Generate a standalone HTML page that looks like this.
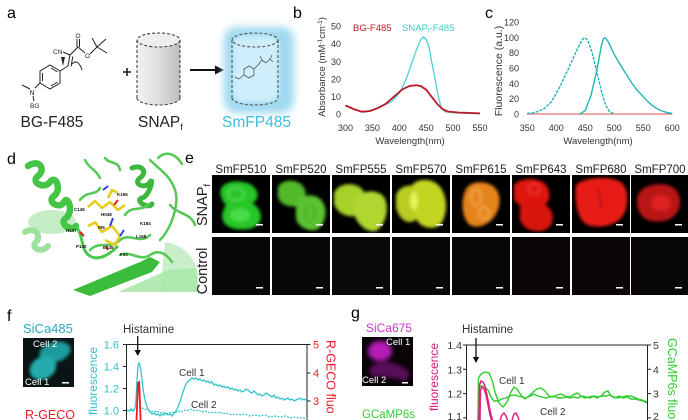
<!DOCTYPE html>
<html><head><meta charset="utf-8"><style>
html,body{margin:0;padding:0;background:#fff;width:688px;height:420px;overflow:hidden;}
svg{display:block;}
text{font-family:"Liberation Sans",Arial,sans-serif;}
</style></head><body>
<svg width="688" height="420" viewBox="0 0 688 420" xmlns="http://www.w3.org/2000/svg" overflow="hidden">
<defs>
<filter id="bl" x="-20%" y="-20%" width="140%" height="140%"><feGaussianBlur stdDeviation="1.5"/></filter>
<filter id="bl2" x="-30%" y="-30%" width="160%" height="160%"><feGaussianBlur stdDeviation="4"/></filter>
<filter id="bl3" x="-30%" y="-30%" width="160%" height="160%"><feGaussianBlur stdDeviation="2.5"/></filter>
<linearGradient id="cyl" x1="0" x2="1" y1="0" y2="0"><stop offset="0" stop-color="#f4f4f4"/><stop offset="0.6" stop-color="#d8d8d8"/><stop offset="1" stop-color="#bdbdbd"/></linearGradient>
<clipPath id="frame"><rect width="688" height="420"/></clipPath>
</defs>
<g clip-path="url(#frame)">
<rect width="688" height="420" fill="#fff"/>

<!-- ===== Panel a ===== -->
<text x="7" y="18" font-size="16">a</text>
<g stroke="#222" stroke-width="1" fill="none">
  <polygon points="50,65 60,71 60,83 50,89 40,83 40,71"/>
  <line x1="42.5" y1="73" x2="42.5" y2="81"/>
  <line x1="51" y1="68" x2="57.5" y2="72"/>
  <line x1="51" y1="86" x2="57.5" y2="82"/>
  <line x1="60" y1="71" x2="68" y2="66"/>
  <line x1="68" y1="66" x2="70" y2="55"/>
  <line x1="71" y1="66.5" x2="72.8" y2="56.5"/>
  <line x1="70" y1="55" x2="63" y2="52"/>
  <line x1="70" y1="55" x2="78" y2="47"/>
  <line x1="77" y1="47" x2="77" y2="39"/>
  <line x1="79.5" y1="47" x2="79.5" y2="39"/>
  <line x1="78" y1="47" x2="85" y2="53"/>
  <line x1="90" y1="54" x2="97" y2="47"/>
  <line x1="97" y1="47" x2="92" y2="38"/>
  <line x1="97" y1="47" x2="106" y2="39"/>
  <line x1="97" y1="47" x2="107" y2="53"/>
  <path d="M72,64 Q78,58 82,70"/>
  <line x1="40" y1="83" x2="35" y2="88"/>
  <line x1="30" y1="89" x2="22" y2="85"/>
  <line x1="33" y1="96" x2="34" y2="101"/>
</g>
<polygon points="61,57 65,57 63,66" fill="#222"/>
<text x="53" y="54" font-size="6.5" fill="#222">CN</text>
<text x="75.5" y="38" font-size="6.5" fill="#222">O</text>
<text x="85" y="58" font-size="6.5" fill="#222">O</text>
<text x="29.5" y="95" font-size="7" fill="#222">N</text>
<text x="30" y="108" font-size="6.5" fill="#222">BG</text>
<text x="52" y="127" font-size="15.5" text-anchor="middle" fill="#222">BG-F485</text>

<g stroke="#222" stroke-width="1.6"><line x1="123" y1="72" x2="131" y2="72"/><line x1="127" y1="68" x2="127" y2="76"/></g>

<path d="M137,40 L137,98 A21.5,7 0 0 0 180,98 L180,40 Z" fill="url(#cyl)"/>
<ellipse cx="158.5" cy="40" rx="21.5" ry="7" fill="#efefef"/>
<g stroke="#444" stroke-width="1.1" stroke-dasharray="3,2" fill="none">
  <ellipse cx="158.5" cy="40" rx="21.5" ry="7"/>
  <line x1="137" y1="40" x2="137" y2="98"/>
  <line x1="180" y1="40" x2="180" y2="98"/>
  <path d="M137,98 A21.5,7 0 0 0 180,98"/>
</g>
<text x="138" y="127" font-size="15.5" fill="#222">SNAP<tspan font-size="9" dy="3">f</tspan></text>

<line x1="190" y1="70" x2="216" y2="70" stroke="#111" stroke-width="2"/>
<polygon points="215,65.5 224,70 215,74.5" fill="#111"/>

<rect x="224" y="27" width="70" height="86" rx="12" fill="#9fd9f0" filter="url(#bl2)"/>
<rect x="233" y="36" width="46" height="66" rx="10" fill="#cdeefa" filter="url(#bl3)"/>
<g stroke="#555" stroke-width="1.1" stroke-dasharray="3,2" fill="none">
  <ellipse cx="255" cy="40" rx="23" ry="7"/>
  <line x1="232" y1="40" x2="232" y2="98"/>
  <line x1="278" y1="40" x2="278" y2="98"/>
  <path d="M232,98 A23,7 0 0 0 278,98"/>
</g>
<g stroke="#555" stroke-width="0.8" fill="none">
  <polygon points="249,66 254,69 254,75 249,78 244,75 244,69"/>
  <line x1="254" y1="69" x2="258" y2="65"/><line x1="258" y1="65" x2="262" y2="60"/>
  <line x1="262" y1="60" x2="266" y2="63"/><line x1="266" y1="63" x2="270" y2="59"/>
  <line x1="270" y1="59" x2="273" y2="62"/><line x1="270" y1="59" x2="272" y2="55"/>
  <line x1="244" y1="75" x2="239" y2="79"/><line x1="239" y1="79" x2="235" y2="77"/>
  <line x1="262" y1="60" x2="260" y2="56"/>
</g>
<text x="256.5" y="127" font-size="15.5" text-anchor="middle" fill="#3cc0e0">SmFP485</text>

<!-- ===== Panel b ===== -->
<text x="293" y="18" font-size="16">b</text>
<text x="353" y="31" font-size="9.5" fill="#c0182a">BG-F485</text>
<text x="402" y="31" font-size="9.5" fill="#3ccccc">SNAP<tspan font-size="6" dy="1.5">f</tspan><tspan dy="-1.5">-F485</tspan></text>
<g font-size="9" fill="#333" text-anchor="end">
  <text x="341" y="117.5">0</text><text x="341" y="100">10</text><text x="341" y="82.4">20</text>
  <text x="341" y="64.8">30</text><text x="341" y="47.2">40</text><text x="341" y="29.6">50</text>
</g>
<g font-size="9" fill="#333" text-anchor="middle">
  <text x="345.5" y="131">300</text><text x="372.4" y="131">350</text><text x="399.3" y="131">400</text>
  <text x="426.2" y="131">450</text><text x="453" y="131">500</text><text x="480" y="131">550</text>
</g>
<text transform="translate(325,67) rotate(-90)" font-size="9.5" text-anchor="middle" fill="#333">Absorbance (mM<tspan font-size="6.5" dy="-3">-1</tspan><tspan dy="3">cm</tspan><tspan font-size="6.5" dy="-3">-1</tspan><tspan dy="3">)</tspan></text>
<text x="410" y="144" font-size="9.5" text-anchor="middle" fill="#333">Wavelength(nm)</text>
<polyline fill="none" stroke="#4dd2d2" stroke-width="1.3" points="345.5,105.5 350.9,108.1 356.3,110.3 364.3,112.2 372.4,109.9 383.2,105.5 391.2,102 399.3,93.2 403.5,85 407.4,75.6 411.5,64 415.4,52.7 418.3,45 420.8,39.5 423.5,36.9 426.2,39.5 429,47 431.6,61.5 434.5,76 437,89.7 439.2,100 441.3,107.3 445,111.7 453.1,112.9 480,113.8"/>
<polyline fill="none" stroke="#c0182a" stroke-width="1.8" points="345.5,105.5 353.6,109 361.6,111.7 369.7,111.1 377.8,108.1 385.9,103.7 393.9,96.7 402,89.7 406,87.5 410.1,85.8 416.5,85.3 420.8,86.1 426.2,89.7 431.6,96.7 437,103.7 442.3,109 447.7,111.5 458.5,112.5 469.2,112.9 480,113.4"/>

<!-- ===== Panel c ===== -->
<text x="485" y="18" font-size="16">c</text>
<g font-size="9" fill="#333" text-anchor="end">
  <text x="519" y="117.5">0</text><text x="519" y="102.2">20</text><text x="519" y="86.9">40</text>
  <text x="519" y="71.5">60</text><text x="519" y="56.2">80</text><text x="519" y="40.9">100</text><text x="519" y="25.6">120</text>
</g>
<g font-size="9" fill="#333" text-anchor="middle">
  <text x="527.3" y="131">350</text><text x="556.3" y="131">400</text><text x="585.3" y="131">450</text>
  <text x="614.3" y="131">500</text><text x="643.3" y="131">550</text><text x="672.3" y="131">600</text>
</g>
<text transform="translate(502,71) rotate(-90)" font-size="10.5" text-anchor="middle" fill="#333">Fluorescence (a.u.)</text>
<text x="598" y="144" font-size="9.5" text-anchor="middle" fill="#333">Wavelength(nm)</text>
<line x1="527" y1="114" x2="672" y2="114" stroke="#e07070" stroke-width="1.2"/>
<polyline fill="none" stroke="#1fb5b5" stroke-width="1.4" stroke-dasharray="3,1.2" points="527.3,113.5 533.1,112.8 538.9,111.2 544.7,108.2 550.5,102.8 556.3,93.6 562.1,82.1 567.9,69.9 573.7,56.9 579.5,44.6 582,40 584.1,37.7 586.3,38.8 588.2,41.5 592.3,53 596.9,72.2 601.5,91.3 605.6,105.1 609.7,112 614.3,113.9"/>
<polyline fill="none" stroke="#1fb5b5" stroke-width="1.4" points="579.5,114.3 585.3,110.5 591.1,95.2 596.9,69.9 601.5,45.4 603,40 604.4,37.7 606.3,38.8 608.5,42.3 614.3,54.6 620.1,64.5 625.9,73.7 631.7,82.9 637.5,90.6 643.3,96.7 649.1,102.8 654.9,107.4 660.7,110.5 666.5,112.4 672.3,113.5"/>

<!-- ===== Panel d ===== -->
<text x="7" y="164" font-size="16">d</text>
<ellipse cx="52" cy="222" rx="24" ry="12" fill="#c6eec6"/>
<path d="M165,242 C182,244 198,258 198,278 L198,292 L160,292 Z" fill="#bdeabd" opacity="0.8"/>
<path d="M25,232 C35,226 42,236 36,242 C30,248 42,254 48,246" stroke="#9ee09e" stroke-width="6" fill="none" stroke-linecap="round"/>
<path d="M28,166 C40,158 46,170 38,176 C30,182 44,190 50,182 C56,174 62,190 54,196 C46,202 60,210 64,202 C68,194 74,212 66,218 C58,224 72,232 76,226" stroke="#45c445" stroke-width="6.5" fill="none" stroke-linecap="round"/>
<path d="M76,226 C84,236 80,250 90,256 C100,262 112,252 118,246" stroke="#4cc84c" stroke-width="3" fill="none"/>
<polygon points="73,290 140,262 150,257 160,262 152,272 90,296" fill="#3cbc3c"/>
<polygon points="118,292 168,270 196,268 198,292" fill="#a8e6a8" opacity="0.85"/>
<path d="M132,168 C142,164 148,172 140,178 C132,184 146,190 150,182 C154,176 150,196 142,198 C134,200 148,210 152,204" stroke="#3cb83c" stroke-width="5" fill="none" stroke-linecap="round"/>
<g stroke="#55c855" stroke-width="2.5" fill="none" stroke-linecap="round">
  <path d="M150,160 C160,170 170,175 175,190 C180,205 170,230 160,240"/>
  <path d="M158,158 C166,150 176,154 182,164"/>
  <path d="M85,160 C90,170 95,168 100,178"/>
  <path d="M105,158 C110,165 118,160 120,170"/>
  <path d="M170,205 C178,215 190,212 195,225"/>
  <path d="M90,250 C100,240 110,250 120,240 C130,232 140,245 150,235"/>
  <path d="M120,255 C130,250 140,262 150,255 C160,248 168,256 172,262"/>
  <path d="M80,200 C88,190 96,196 100,188"/>
  <path d="M125,215 C132,205 140,212 148,205"/>
</g>
<g stroke="#e6cc1a" stroke-width="2.6" fill="none" stroke-linejoin="round">
  <path d="M88,207 L95,201 L102,208 L110,202 L118,210 L125,205"/>
  <path d="M95,222 L102,232 L112,226 L120,236 L115,245 L105,240"/>
  <path d="M108,198 L112,190 L118,193"/>
  <path d="M88,226 L96,222"/>
</g>
<g stroke="#3040e0" stroke-width="2" fill="none"><path d="M110,226 L113,218"/><path d="M120,236 L124,230"/><path d="M103,190 L108,186"/></g>
<g stroke="#e02020" stroke-width="2" fill="none"><path d="M80,232 L84,236"/><path d="M106,246 L108,250"/><path d="M114,205 L118,200"/></g>
<g font-size="4.5" font-weight="bold" fill="#111">
  <text x="117" y="196">K165</text><text x="74" y="211">C145</text><text x="101" y="216">H048</text>
  <text x="140" y="225">K184</text><text x="66" y="232">N137</text><text x="98" y="229">W5</text>
  <text x="136" y="238">L168</text><text x="76" y="248">P140</text><text x="103" y="249">E145</text><text x="120" y="256">F33</text>
</g>

<!-- ===== Panel e ===== -->
<text x="185" y="163" font-size="16">e</text>
<g font-size="11.5" fill="#222" text-anchor="middle">
  <text x="241" y="173">SmFP510</text><text x="301" y="173">SmFP520</text><text x="361" y="173">SmFP555</text>
  <text x="421" y="173">SmFP570</text><text x="481" y="173">SmFP615</text><text x="541" y="173">SmFP643</text>
  <text x="601" y="173">SmFP680</text><text x="660" y="173">SmFP700</text>
</g>
<text transform="translate(207,205) rotate(-90)" font-size="14.5" text-anchor="middle" fill="#222">SNAP<tspan font-size="9" dy="3">f</tspan></text>
<text transform="translate(207,271) rotate(-90)" font-size="14.5" text-anchor="middle" fill="#222">Control</text>

<svg x="212" y="175" width="58" height="58" viewBox="0 0 58 58"><rect width="58" height="58" fill="#000"/>
 <g filter="url(#bl)"><path d="M12,10 C20,4 36,6 42,12 C48,18 46,26 40,28 C48,32 52,42 46,50 C38,56 22,56 14,50 C8,44 10,36 14,30 C8,24 6,14 12,10 Z" fill="#25c625"/>
 <ellipse cx="24" cy="19" rx="8" ry="6" fill="none" stroke="#60e060" stroke-width="1.5"/><ellipse cx="28" cy="40" rx="10" ry="7" fill="#48dc48"/></g>
 <rect x="44" y="49" width="7" height="1.5" fill="#fff"/></svg>
<svg x="272" y="175" width="58" height="58" viewBox="0 0 58 58"><rect width="58" height="58" fill="#000"/>
 <g filter="url(#bl)"><path d="M6,12 C10,4 24,4 30,10 C36,16 34,26 28,30 C20,34 8,30 6,22 Z" fill="#52b82c"/>
 <path d="M24,28 C30,18 44,18 50,26 C56,34 54,48 46,54 C38,58 26,52 24,44 Z" fill="#5cc232"/>
 <ellipse cx="38" cy="38" rx="5" ry="8" fill="none" stroke="#3f9a22" stroke-width="1"/></g>
 <rect x="44" y="49" width="7" height="1.5" fill="#fff"/></svg>
<svg x="332" y="175" width="58" height="58" viewBox="0 0 58 58"><rect width="58" height="58" fill="#000"/>
 <g filter="url(#bl)"><path d="M2,18 C6,8 22,6 30,14 C36,22 34,36 26,40 C16,44 4,38 2,28 Z" fill="#a6d02c"/>
 <path d="M22,26 C28,14 46,14 52,22 C58,32 54,50 44,56 C34,58 24,48 22,38 Z" fill="#b0d630"/></g>
 <rect x="44" y="49" width="7" height="1.5" fill="#fff"/></svg>
<svg x="392" y="175" width="58" height="58" viewBox="0 0 58 58"><rect width="58" height="58" fill="#000"/>
 <g filter="url(#bl)"><path d="M4,20 C8,10 20,8 26,14 C32,22 30,40 22,46 C14,50 6,42 4,32 Z" fill="#b8cc22"/>
 <path d="M20,10 C28,2 42,4 48,12 C56,22 56,40 48,50 C40,56 28,52 24,44 C18,34 16,20 20,10 Z" fill="#c4d424"/>
 <ellipse cx="22" cy="26" rx="4" ry="9" fill="#e8f25a"/></g>
 <rect x="44" y="49" width="7" height="1.5" fill="#fff"/></svg>
<svg x="452" y="175" width="58" height="58" viewBox="0 0 58 58"><rect width="58" height="58" fill="#000"/>
 <g filter="url(#bl)"><path d="M14,14 C20,4 38,6 44,14 C50,22 48,34 42,42 C36,50 26,54 18,50 C10,44 8,26 14,14 Z" fill="#e6841c"/>
 <ellipse cx="24" cy="22" rx="5" ry="8" fill="none" stroke="#f6b050" stroke-width="1.5"/><ellipse cx="32" cy="38" rx="5" ry="6" fill="none" stroke="#f6b050" stroke-width="1.5"/></g>
 <rect x="44" y="49" width="7" height="1.5" fill="#fff"/></svg>
<svg x="512" y="175" width="58" height="58" viewBox="0 0 58 58"><rect width="58" height="58" fill="#000"/>
 <g filter="url(#bl)"><path d="M2,10 C8,2 28,2 34,10 C40,18 38,28 30,32 C20,36 6,32 2,24 Z" fill="#de140e"/>
 <path d="M8,30 C14,26 32,26 38,34 C44,42 40,54 30,56 C18,58 6,50 8,40 Z" fill="#d81410"/>
 <ellipse cx="22" cy="14" rx="6" ry="5" fill="none" stroke="#f04040" stroke-width="1.2"/></g>
 <rect x="44" y="49" width="7" height="1.5" fill="#fff"/></svg>
<svg x="572" y="175" width="58" height="58" viewBox="0 0 58 58"><rect width="58" height="58" fill="#000"/>
 <g filter="url(#bl)"><path d="M4,10 C12,2 40,0 50,8 C58,16 56,34 50,42 C44,50 28,54 16,50 C6,46 2,28 4,10 Z" fill="#e81a18"/>
 <path d="M26,14 L30,34" stroke="#600" stroke-width="1"/></g>
 <rect x="44" y="49" width="7" height="1.5" fill="#fff"/></svg>
<svg x="631" y="175" width="57" height="58" viewBox="0 0 57 58"><rect width="58" height="58" fill="#000"/>
 <g filter="url(#bl)"><path d="M8,18 C14,8 36,6 44,14 C52,22 50,36 42,42 C34,48 18,48 12,42 C6,36 4,26 8,18 Z" fill="#b81418"/>
 <ellipse cx="30" cy="28" rx="10" ry="8" fill="#de2024"/></g>
 <rect x="44" y="49" width="7" height="1.5" fill="#fff"/></svg>

<g>
 <rect x="212" y="237" width="58" height="58" fill="#070907"/>
 <rect x="272" y="237" width="58" height="58" fill="#070807"/>
 <rect x="332" y="237" width="58" height="58" fill="#090907"/>
 <rect x="392" y="237" width="58" height="58" fill="#080807"/>
 <rect x="452" y="237" width="58" height="58" fill="#080706"/>
 <rect x="512" y="237" width="58" height="58" fill="#0b0606"/>
 <rect x="572" y="237" width="58" height="58" fill="#0c0606"/>
 <rect x="631" y="237" width="57" height="58" fill="#090606"/>
 <g fill="#fff">
  <rect x="256" y="287" width="7" height="1.5"/><rect x="316" y="287" width="7" height="1.5"/>
  <rect x="376" y="287" width="7" height="1.5"/><rect x="436" y="287" width="7" height="1.5"/>
  <rect x="496" y="287" width="7" height="1.5"/><rect x="556" y="287" width="7" height="1.5"/>
  <rect x="616" y="287" width="7" height="1.5"/><rect x="675" y="287" width="7" height="1.5"/>
 </g>
</g>

<!-- ===== Panel f ===== -->
<text x="7" y="321" font-size="16">f</text>
<text x="23" y="333" font-size="13" fill="#2aa8c0">SiCa485</text>
<svg x="23" y="338" width="51" height="49" viewBox="0 0 51 49"><rect width="51" height="49" fill="#0b1414"/>
 <g filter="url(#bl)"><ellipse cx="32" cy="14" rx="16" ry="10" fill="#1a9a9c" transform="rotate(-15 32 14)"/>
 <ellipse cx="20" cy="30" rx="14" ry="11" fill="#22aaac" transform="rotate(-30 20 30)"/></g>
 <rect x="39" y="44" width="7" height="1.5" fill="#fff"/></svg>
<text x="33" y="347" font-size="9.5" fill="#fff">Cell 2</text>
<text x="25" y="385" font-size="9.5" fill="#fff">Cell 1</text>
<text x="25" y="419" font-size="12.5" fill="#ee1c25">R-GECO</text>
<text transform="translate(97,347) rotate(-90)" font-size="12" text-anchor="end" fill="#33c3cc">fluorescence</text>
<text transform="translate(326.5,340) rotate(90)" font-size="12.5" fill="#ee1c25">R-GECO fluo</text>
<text x="123" y="333" font-size="11.5" fill="#333">Histamine</text>
<line x1="137.7" y1="336" x2="137.7" y2="351" stroke="#111" stroke-width="1.3"/>
<polygon points="134.5,350 141,350 137.7,356" fill="#111"/>
<g stroke="#222" stroke-width="1" fill="none">
  <path d="M126.5,420 L126.5,344.5 L307,344.5 L307,420"/>
  <path d="M123,344.5 h3.5 M123,366.5 h3.5 M123,388.5 h3.5 M123,410.5 h3.5"/>
  <path d="M307,344.5 h3.5 M307,373 h3.5 M307,401 h3.5"/>
</g>
<g font-size="11" fill="#2cc0c8" text-anchor="end">
  <text x="119" y="348.5">1.6</text><text x="119" y="370.5">1.4</text><text x="119" y="392.5">1.2</text><text x="119" y="414.5">1.0</text>
</g>
<g font-size="11" fill="#ee1c25">
  <text x="313" y="348.5">5</text><text x="313" y="377">4</text><text x="313" y="405">3</text>
</g>
<polyline fill="none" stroke="#33c3cc" stroke-width="1.2" stroke-dasharray="2,1.3" points="127,411 130,410 133,411 136,409 139,407 142,408 145,409 148,410 151,411 154,412 157,411 160,413 163,412 166,414 169,413 172,412 175,413 178,411 181,412 184,410 187,411 190,409 193,410 196,411 199,410 202,412 205,411 208,412 211,413 214,412 217,413 220,412 223,414 226,413 229,414 232,415 235,414 240,415 245,414 250,416 255,415 260,416 265,415 270,417 275,416 280,417 285,416 290,418 295,417 300,418 307,418"/>
<polyline fill="none" stroke="#33c3cc" stroke-width="1.3" points="127,410 129,411 131,409 133,411 135,408 136,400 137,380 138,366 138.8,363 139.5,364 140.5,368 141.5,375 142.5,384 143.5,392 145,400 146.5,405 148,409 150,412 152,414 154,413 156,415 158,414 160,416 162,414 164,415 166,413 168,415 170,414 172,416 174,413 176,411 178,407 180,402 182,395 184,389 186,384 188,381 190,380 192,378 194,379 196,378 198,380 200,379 202,381 204,380 206,382 208,381 210,383 212,382 214,385 216,384 218,386 220,385 222,387 224,386 226,388 228,387 230,389 232,388 234,390 236,389 238,391 240,390 242,392 244,391 246,389 248,390 250,392 252,393 254,391 256,393 258,395 260,394 262,396 264,395 266,393 268,394 270,396 272,397 274,395 276,398 278,397 280,399 282,398 284,400 286,399 288,398 290,400 292,399 294,401 296,400 298,399 300,398 302,400 304,399 307,401"/>
<path d="M136.5,420 L138,383 L139.2,382 L140.6,420" fill="none" stroke="#ee1c25" stroke-width="1.8"/>
<text x="179" y="376" font-size="10" fill="#333">Cell 1</text>
<text x="191" y="408" font-size="10" fill="#333">Cell 2</text>

<!-- ===== Panel g ===== -->
<text x="351" y="318" font-size="16">g</text>
<text x="366" y="332" font-size="12" fill="#cc33cc">SiCa675</text>
<svg x="362" y="337" width="51" height="49" viewBox="0 0 51 49"><rect width="51" height="49" fill="#080408"/>
 <g filter="url(#bl3)"><ellipse cx="18" cy="14" rx="12" ry="10" fill="#b61ab6"/>
 <path d="M8,30 C20,22 36,24 48,36 L44,44 C30,40 18,40 8,38 Z" fill="#5a0e5a"/></g>
 <rect x="40" y="45" width="6" height="1.5" fill="#fff"/></svg>
<text x="386" y="345" font-size="9.5" fill="#fff">Cell 1</text>
<text x="362" y="383" font-size="9.5" fill="#fff">Cell 2</text>
<text x="362" y="418" font-size="11.5" fill="#33cc33">GCaMP6s</text>
<text transform="translate(438,343) rotate(-90)" font-size="12" text-anchor="end" fill="#d0207a">fluorescence</text>
<text transform="translate(668,338) rotate(90)" font-size="12.5" fill="#33cc33">GCaMP6s fluo</text>
<text x="462" y="333" font-size="11.5" fill="#333">Histamine</text>
<line x1="476" y1="338" x2="476" y2="358" stroke="#111" stroke-width="1.3"/>
<polygon points="472.8,357 479.2,357 476,363" fill="#111"/>
<g stroke="#222" stroke-width="1" fill="none">
  <path d="M466.5,420 L466.5,345 L647.5,345 L647.5,420"/>
  <path d="M463,345 h3.5 M463,369.3 h3.5 M463,393.6 h3.5 M463,417.9 h3.5"/>
  <path d="M647.5,345 h3.5 M647.5,369.3 h3.5 M647.5,393.6 h3.5 M647.5,417.9 h3.5"/>
</g>
<g font-size="10.5" fill="#333" text-anchor="end">
  <text x="462" y="349">1.4</text><text x="462" y="373.3">1.3</text><text x="462" y="397.6">1.2</text><text x="462" y="420">1.1</text>
</g>
<g font-size="10.5" fill="#333">
  <text x="653" y="349">5</text><text x="653" y="373.3">4</text><text x="653" y="397.6">3</text><text x="653" y="420">2</text>
</g>
<polyline fill="none" stroke="#2ecc2e" stroke-width="1.4" points="478,420 478.5,378 481,374 485,372 489,373 492,380 495,392 499,403 503,407 507,402 511,392 514,387 517,389 521,395 525,399 529,396 533,392 537,389 541,388 545,391 549,396 553,397 557,395 561,394 565,396 569,397 573,395 577,393 581,396 585,398 589,397 593,396 597,398 601,396 605,392 608,391 611,396 615,398 619,396 623,398 627,397 631,399 635,399 639,400 643,401 647,403"/>
<polyline fill="none" stroke="#2ecc2e" stroke-width="1.4" points="478,420 478.5,388 481,386 485,387 488,390 491,397 494,401 498,401 502,399 506,398 510,396 514,395 518,396 522,397 526,398 530,396 534,394 538,396 542,397 546,398 550,397 554,396 558,398 562,398 566,397 570,398 574,397 578,398 582,396 586,397 590,398 594,396 598,397 602,396 606,396 610,395 614,397 618,398 622,397 626,396 630,396 634,397 638,399 642,400 647,402"/>
<g fill="none" stroke="#e0207f" stroke-width="1.5">
  <polyline points="479,420 479.5,385 481,381 483,382 485,386 487,395 489,405 491,415 492.5,420"/>
  <polyline points="480,420 480.5,390 482,387 484,389 486,395 488,405 490,415 491.5,420"/>
  <polyline points="500,420 502,415 504,413 506,416 507.5,420"/>
  <polyline points="512,420 514,414 516,413 518,417 519,420"/>
</g>
<text x="499" y="384" font-size="10" fill="#333">Cell 1</text>
<text x="540" y="415" font-size="10" fill="#333">Cell 2</text>
</g>
</svg>
</body></html>
